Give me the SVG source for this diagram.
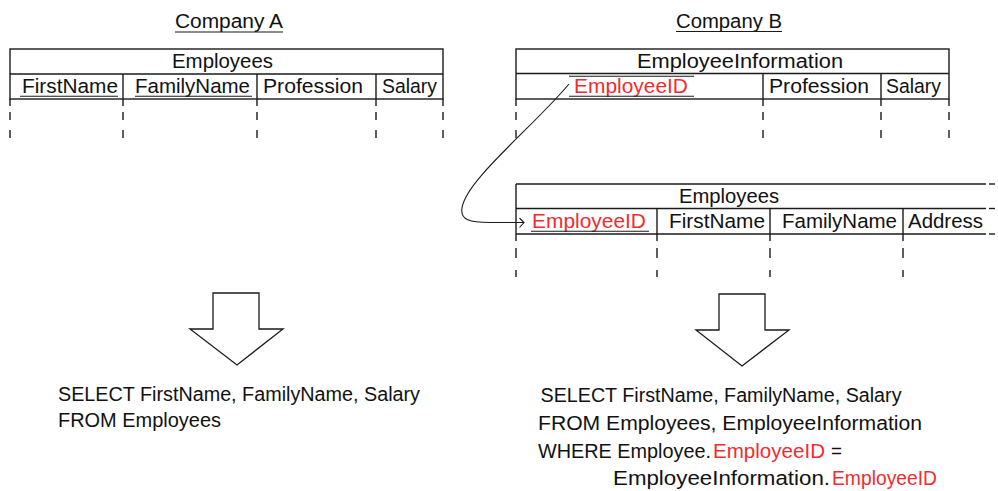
<svg xmlns="http://www.w3.org/2000/svg" width="998" height="491" viewBox="0 0 998 491">
<style>
  text { font-family: "Liberation Sans", Arial, sans-serif; font-size: 20px; fill: #111; }
  .cell { font-size: 20.5px; }
  .red { fill: #f02c30; }
  .ln { stroke: #1a1a1a; stroke-width: 1.4; fill: none; }
  .thin { stroke: #1a1a1a; stroke-width: 1.1; fill: none; }
  .dashA { stroke: #1a1a1a; stroke-width: 1.4; stroke-dasharray: 7 6 8 10 8 100; fill: none; }
  .dashB { stroke: #1a1a1a; stroke-width: 1.4; stroke-dasharray: 7 7 10 12 7 100; fill: none; }
  .blk { fill: #fff; stroke: #1a1a1a; stroke-width: 1.3; }
</style>
<rect width="998" height="491" fill="#fff"/>

<g id="title-a">
  <text x="175" y="28" textLength="108" lengthAdjust="spacingAndGlyphs">Company A</text>
  <line class="thin" x1="175" y1="32" x2="283" y2="32"/>
</g>
<g id="title-b">
  <text x="676" y="27.5" textLength="106" lengthAdjust="spacingAndGlyphs">Company B</text>
  <line class="thin" x1="676" y1="31.5" x2="782" y2="31.5"/>
</g>

<g id="table-a-employees">
  <rect class="ln" x="10" y="49" width="433" height="50"/>
  <line class="ln" x1="10" y1="74" x2="443" y2="74"/>
  <line class="ln" x1="123" y1="74" x2="123" y2="99"/>
  <line class="ln" x1="257" y1="74" x2="257" y2="99"/>
  <line class="ln" x1="376" y1="74" x2="376" y2="99"/>
  <text x="172" y="68" textLength="101" lengthAdjust="spacingAndGlyphs">Employees</text>
  <text class="cell" x="22" y="93" textLength="96" lengthAdjust="spacingAndGlyphs">FirstName</text>
  <text class="cell" x="135" y="93" textLength="115" lengthAdjust="spacingAndGlyphs">FamilyName</text>
  <text class="cell" x="263" y="93" textLength="100" lengthAdjust="spacingAndGlyphs">Profession</text>
  <text class="cell" x="382" y="93" textLength="55" lengthAdjust="spacingAndGlyphs">Salary</text>
  <line class="thin" x1="20" y1="96.3" x2="118" y2="96.3"/>
  <line class="thin" x1="135" y1="96.3" x2="252" y2="96.3"/>
  <line class="dashA" x1="10" y1="99" x2="10" y2="140"/>
  <line class="dashA" x1="123" y1="99" x2="123" y2="140"/>
  <line class="dashA" x1="257" y1="99" x2="257" y2="140"/>
  <line class="dashA" x1="376" y1="99" x2="376" y2="140"/>
  <line class="dashA" x1="443" y1="99" x2="443" y2="140"/>
</g>

<g id="table-b-employeeinformation">
  <rect class="ln" x="516" y="49" width="433" height="50"/>
  <line class="ln" x1="516" y1="73.5" x2="949" y2="73.5"/>
  <line class="ln" x1="763" y1="73.5" x2="763" y2="99"/>
  <line class="ln" x1="881" y1="73.5" x2="881" y2="99"/>
  <text x="637" y="68" textLength="206" lengthAdjust="spacingAndGlyphs">EmployeeInformation</text>
  <text class="cell red" x="574" y="93" textLength="114" lengthAdjust="spacingAndGlyphs">EmployeeID</text>
  <line class="thin" x1="569" y1="76.3" x2="694" y2="76.3"/>
  <line class="thin" x1="569" y1="96.3" x2="694" y2="96.3"/>
  <text class="cell" x="769" y="93" textLength="100" lengthAdjust="spacingAndGlyphs">Profession</text>
  <text class="cell" x="886" y="93" textLength="55" lengthAdjust="spacingAndGlyphs">Salary</text>
  <line class="dashA" x1="516" y1="99" x2="516" y2="140"/>
  <line class="dashA" x1="763" y1="99" x2="763" y2="140"/>
  <line class="dashA" x1="881" y1="99" x2="881" y2="140"/>
  <line class="dashA" x1="949" y1="99" x2="949" y2="140"/>
</g>

<g id="table-b-employees">
  <line class="ln" x1="516" y1="184" x2="986" y2="184"/>
  <line class="ln" x1="516" y1="208.5" x2="986" y2="208.5"/>
  <line class="ln" x1="516" y1="234" x2="986" y2="234"/>
  <line class="ln" x1="989" y1="184" x2="995" y2="184"/>
  <line class="ln" x1="989" y1="208.5" x2="995" y2="208.5"/>
  <line class="ln" x1="989" y1="234" x2="995" y2="234"/>
  <line class="ln" x1="516" y1="184" x2="516" y2="234"/>
  <line class="ln" x1="657" y1="208.5" x2="657" y2="234"/>
  <line class="ln" x1="770" y1="208.5" x2="770" y2="234"/>
  <line class="ln" x1="903" y1="208.5" x2="903" y2="234"/>
  <text x="679" y="203" textLength="100" lengthAdjust="spacingAndGlyphs">Employees</text>
  <text class="cell red" x="532" y="228" textLength="114" lengthAdjust="spacingAndGlyphs">EmployeeID</text>
  <line class="thin" x1="531" y1="231.3" x2="649" y2="231.3"/>
  <text class="cell" x="669" y="228" textLength="96" lengthAdjust="spacingAndGlyphs">FirstName</text>
  <text class="cell" x="782" y="228" textLength="115" lengthAdjust="spacingAndGlyphs">FamilyName</text>
  <text class="cell" x="908" y="228" textLength="75" lengthAdjust="spacingAndGlyphs">Address</text>
  <line class="dashB" x1="516" y1="234" x2="516" y2="278"/>
  <line class="dashB" x1="657" y1="234" x2="657" y2="278"/>
  <line class="dashB" x1="770" y1="234" x2="770" y2="278"/>
  <line class="dashB" x1="903" y1="234" x2="903" y2="278"/>
</g>

<g id="connectors">
  <path class="thin" d="M569,84 C533,127 466,180 462,208 C460,220 470,222.5 490,222.5 L524,222.5"/>
  <polyline class="thin" points="519.5,218 524,222.5 519.5,227.5"/>
</g>

<g id="arrow-a">
  <polygon class="blk" points="213,293 259,293 259,329 283,329 237,365 190,329 213,329"/>
</g>
<g id="arrow-b">
  <polygon class="blk" points="719,294 765,294 765,330 789,330 742,366 696,330 719,330"/>
</g>

<g id="sql-a">
  <text x="58" y="400.5" textLength="362" lengthAdjust="spacingAndGlyphs">SELECT FirstName, FamilyName, Salary</text>
  <text x="58" y="427" textLength="163" lengthAdjust="spacingAndGlyphs">FROM Employees</text>
</g>

<g id="sql-b">
  <text x="540.5" y="402" textLength="361" lengthAdjust="spacingAndGlyphs">SELECT FirstName, FamilyName, Salary</text>
  <text x="538" y="430" textLength="384" lengthAdjust="spacingAndGlyphs">FROM Employees, EmployeeInformation</text>
  <text x="538" y="457.5" textLength="173" lengthAdjust="spacingAndGlyphs">WHERE Employee.</text>
  <text class="red" x="713" y="457.5" textLength="112" lengthAdjust="spacingAndGlyphs">EmployeeID</text>
  <text x="831" y="457.5" textLength="11" lengthAdjust="spacingAndGlyphs">=</text>
  <text x="613" y="485" textLength="217" lengthAdjust="spacingAndGlyphs">EmployeeInformation.</text>
  <text class="red" x="832" y="485" textLength="105" lengthAdjust="spacingAndGlyphs">EmployeeID</text>
</g>
</svg>
